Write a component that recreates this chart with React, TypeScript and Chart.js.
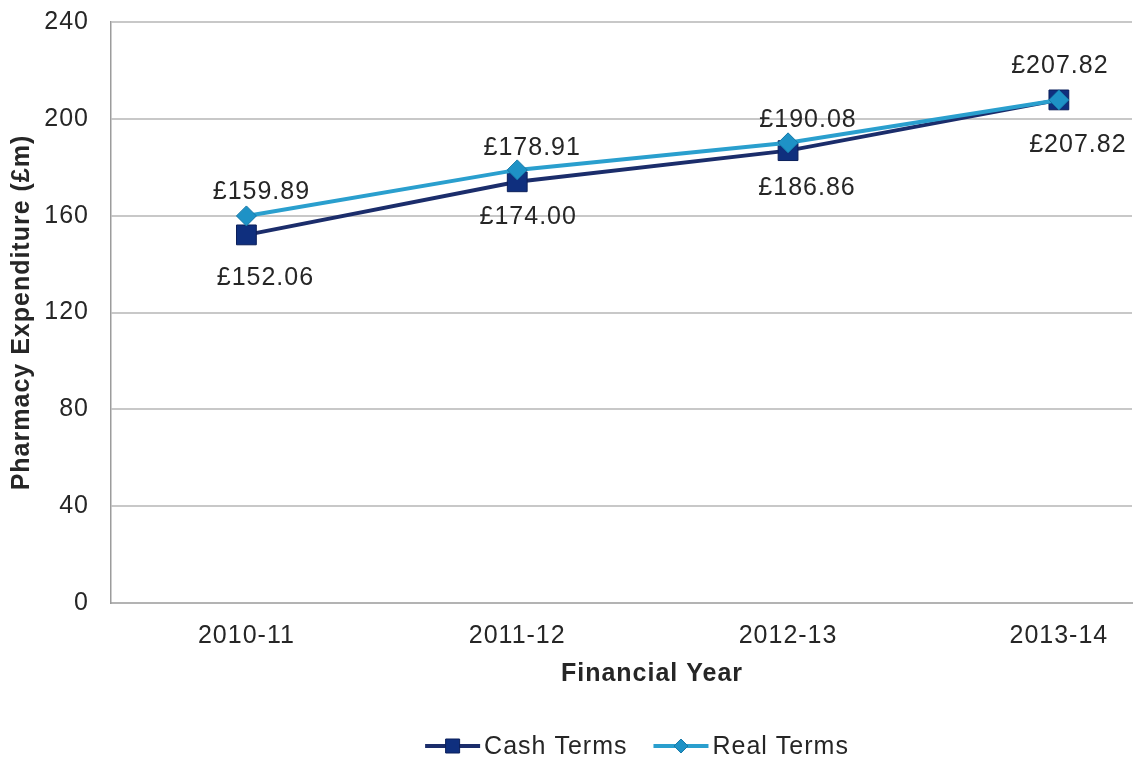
import React, { useEffect, useRef } from 'react';
import { Chart, registerables } from 'chart.js';

Chart.register(...registerables);

// ---- Data ----
const categories = ['2010-11', '2011-12', '2012-13', '2013-14'];
const cashTerms = [152.06, 174.0, 186.86, 207.82];
const realTerms = [159.89, 178.91, 190.08, 207.82];
const yTicks = [0, 40, 80, 120, 160, 200, 240];
const seriesNames = ['Cash Terms', 'Real Terms'];
const xTitle = 'Financial Year';
const yTitle = 'Pharmacy Expenditure (£m)';

// ---- Styles ----
const FONT = '"Liberation Sans", Arial, Helvetica, sans-serif';
const TEXT = '#262626';
const CASH = '#1b2d6b';
const CASH_FILL = '#0f2f7e';
const REAL = '#2a9fce';
const REAL_FILL = '#1e92c6';

const spacingPlugin = {
  id: 'letterSpacing',
  beforeUpdate(chart: any) {
    chart.ctx.letterSpacing = '1px';
  },
  beforeLayout(chart: any) {
    chart.ctx.letterSpacing = '1px';
  },
  beforeDraw(chart: any) {
    chart.ctx.letterSpacing = '1px';
  },
};

const labelPlugin = {
  id: 'valueLabels',
  afterDatasetsDraw(chart: any, _args: any, opts: any) {
    const ctx = chart.ctx;
    ctx.save();
    ctx.letterSpacing = '1px';
    ctx.font = `25px ${FONT}`;
    ctx.fillStyle = TEXT;
    ctx.textAlign = 'center';
    ctx.textBaseline = 'middle';
    chart.data.datasets.forEach((ds: any, di: number) => {
      const meta = chart.getDatasetMeta(di);
      const off = opts.offsets[ds.label];
      meta.data.forEach((pt: any, i: number) => {
        const v = ds.data[i].y;
        ctx.fillText('£' + v.toFixed(2), pt.x + off.dx[i], pt.y + off.dy[i]);
      });
    });
    ctx.restore();
  },
};

const xTitlePlugin = {
  id: 'xTitle',
  afterDraw(chart: any, _args: any, opts: any) {
    const ctx = chart.ctx;
    ctx.save();
    ctx.letterSpacing = '1px';
    ctx.font = `bold 25px ${FONT}`;
    ctx.fillStyle = TEXT;
    ctx.textAlign = 'center';
    ctx.textBaseline = 'middle';
    ctx.fillText(opts.text, opts.x, opts.y);
    ctx.restore();
  },
};

const legendPlugin = {
  id: 'lineLegend',
  afterDraw(chart: any, _args: any, opts: any) {
    const ctx = chart.ctx;
    ctx.save();
    ctx.letterSpacing = '1px';
    ctx.font = `25px ${FONT}`;
    ctx.textBaseline = 'middle';
    ctx.textAlign = 'left';
    const lineLen = 55;
    const gap = 4;
    const itemGap = 26;
    const items = chart.data.datasets
      .map((ds: any) => ds)
      .sort((a: any, b: any) => seriesNames.indexOf(a.label) - seriesNames.indexOf(b.label));
    const widths = items.map((ds: any) => lineLen + gap + ctx.measureText(ds.label).width);
    const total = widths.reduce((a: number, b: number) => a + b, 0) + itemGap * (items.length - 1);
    let x = opts.centerX - total / 2;
    const y = opts.y;
    items.forEach((ds: any, i: number) => {
      ctx.strokeStyle = ds.borderColor;
      ctx.lineWidth = 4;
      ctx.beginPath();
      ctx.moveTo(x, y);
      ctx.lineTo(x + lineLen, y);
      ctx.stroke();
      const cx = x + lineLen / 2;
      ctx.fillStyle = ds.pointBackgroundColor;
      ctx.strokeStyle = ds.pointBorderColor;
      ctx.lineWidth = 1;
      ctx.beginPath();
      if (ds.pointStyle === 'rect') {
        ctx.rect(cx - 7, y - 7, 14, 14);
      } else {
        ctx.moveTo(cx - 7, y);
        ctx.lineTo(cx, y - 7);
        ctx.lineTo(cx + 7, y);
        ctx.lineTo(cx, y + 7);
        ctx.closePath();
      }
      ctx.fill();
      ctx.stroke();
      ctx.fillStyle = TEXT;
      ctx.fillText(ds.label, x + lineLen + gap, y + 1);
      x += widths[i] + itemGap;
    });
    ctx.restore();
  },
};

export default function App() {
  const canvasRef = useRef<HTMLCanvasElement | null>(null);

  useEffect(() => {
    if (!canvasRef.current) return;
    Chart.defaults.font.family = FONT;
    Chart.defaults.color = TEXT;

    const chart = new Chart(canvasRef.current, {
      type: 'line',
      data: {
        datasets: [
          {
            label: seriesNames[0],
            data: categories.map((_, i) => ({ x: i, y: cashTerms[i] })),
            borderColor: CASH,
            backgroundColor: CASH_FILL,
            borderWidth: 4,
            pointStyle: 'rect',
            pointRadius: 14,
            pointBackgroundColor: CASH_FILL,
            pointBorderColor: '#0b1f5a',
            pointBorderWidth: 1,
            tension: 0,
            order: 1,
          },
          {
            label: seriesNames[1],
            data: categories.map((_, i) => ({ x: i, y: realTerms[i] })),
            borderColor: REAL,
            backgroundColor: REAL_FILL,
            borderWidth: 4,
            pointStyle: 'rectRot',
            pointRadius: 10,
            pointBackgroundColor: REAL_FILL,
            pointBorderColor: '#1579a8',
            pointBorderWidth: 1,
            tension: 0,
            order: 0,
          },
        ] as any,
      },
      options: {
        animation: false,
        responsive: false,
        devicePixelRatio: 1,
        layout: { padding: { top: 22, right: 5, left: 0, bottom: 0 } },
        plugins: {
          legend: { display: false },
          tooltip: { enabled: false },
          valueLabels: {
            offsets: {
              'Cash Terms': { dx: [19, 11, 19, 19], dy: [43, 35, 37, 45] },
              'Real Terms': { dx: [15, 15, 20, 1], dy: [-24, -22, -23, -34] },
            },
          },
          xTitle: { text: xTitle, x: 652, y: 674 },
          lineLegend: { centerX: 637, y: 746 },
        } as any,
        scales: {
          x: {
            type: 'linear',
            min: -0.5,
            max: 3.27,
            afterBuildTicks: (scale: any) => {
              scale.ticks = categories.map((_, i) => ({ value: i }));
            },
            afterFit: (scale: any) => {
              scale.height = 157;
              scale.paddingLeft = 0;
              scale.paddingRight = 0;
            },
            grid: { display: false, drawTicks: false, tickLength: 0 },
            border: { display: true, color: '#b3b3b3', width: 2 },
            ticks: {
              padding: 18,
              font: { size: 25 },
              color: TEXT,
              callback: (v: any) => categories[v] ?? '',
            },
            title: { display: false },
          },
          y: {
            type: 'linear',
            min: 0,
            max: 240,
            afterBuildTicks: (scale: any) => {
              scale.ticks = yTicks.map((v) => ({ value: v }));
            },
            afterFit: (scale: any) => {
              scale.width = 111;
              scale.paddingTop = 0;
              scale.paddingBottom = 0;
            },
            grid: { color: '#c8c8c8', lineWidth: 2, drawTicks: false, tickLength: 0 },
            border: { display: true, color: '#9c9c9c', width: 1.5 },
            ticks: {
              padding: 22,
              font: { size: 25 },
              color: TEXT,
            },
            title: {
              display: true,
              text: yTitle,
              font: { size: 25, weight: 'bold' },
              color: TEXT,
              padding: { top: 7, bottom: 0 },
            },
          },
        } as any,
      },
      plugins: [spacingPlugin, labelPlugin, xTitlePlugin, legendPlugin],
    });

    return () => chart.destroy();
  }, []);

  return (
    <div style={{ position: 'absolute', left: 0, top: 0, width: 1136, height: 760, overflow: 'hidden', background: '#fff' }}>
      <canvas ref={canvasRef} width={1147} height={760} style={{ display: 'block' }} />
    </div>
  );
}
